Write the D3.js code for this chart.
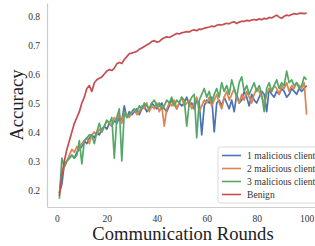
<!DOCTYPE html>
<html>
<head>
<meta charset="utf-8">
<script src="https://cdn.jsdelivr.net/npm/d3@7"></script>
<style>
  body { margin: 0; background: #fff; }
  svg { display: block; font-family: "Liberation Serif", "DejaVu Serif", serif; }
</style>
</head>
<body>
<svg id="chart" width="315" height="246"></svg>
<script>
const rounds = d3.range(1, 101)
const xTicks = [0, 20, 40, 60, 80, 100]
const yTicks = [0.2, 0.3, 0.4, 0.5, 0.6, 0.7, 0.8]
const seriesNames = ['1 malicious client', '2 malicious client', '3 malicious client', 'Benign']
const colors = ['#4C72B0', '#DD8452', '#55A868', '#C44E52']

const oneMalicious = [
  0.19, 0.22, 0.29, 0.30, 0.31, 0.32, 0.31, 0.33, 0.34, 0.35,
  0.37, 0.36, 0.38, 0.39, 0.38, 0.40, 0.39, 0.41, 0.42, 0.41,
  0.43, 0.42, 0.44, 0.43, 0.45, 0.44, 0.49, 0.45, 0.47, 0.46,
  0.47, 0.48, 0.46, 0.48, 0.49, 0.47, 0.48, 0.50, 0.49, 0.48,
  0.49, 0.50, 0.48, 0.47, 0.49, 0.51, 0.50, 0.48, 0.50, 0.49,
  0.50, 0.52, 0.49, 0.50, 0.48, 0.51, 0.50, 0.39, 0.49, 0.51,
  0.50, 0.52, 0.40, 0.50, 0.51, 0.49, 0.52, 0.50, 0.48, 0.51,
  0.47, 0.53, 0.50, 0.51, 0.54, 0.52, 0.49, 0.53, 0.51, 0.50,
  0.52, 0.54, 0.53, 0.47, 0.55, 0.53, 0.52, 0.54, 0.53, 0.55,
  0.54, 0.52, 0.53, 0.55, 0.54, 0.53, 0.55, 0.54, 0.55, 0.56]

const twoMalicious = [
  0.19, 0.26, 0.28, 0.30, 0.32, 0.34, 0.33, 0.35, 0.34, 0.36,
  0.37, 0.38, 0.36, 0.39, 0.40, 0.39, 0.41, 0.40, 0.42, 0.44,
  0.43, 0.42, 0.45, 0.44, 0.46, 0.43, 0.47, 0.46, 0.45, 0.47,
  0.48, 0.46, 0.47, 0.49, 0.48, 0.50, 0.47, 0.49, 0.48, 0.50,
  0.47, 0.49, 0.42, 0.48, 0.50, 0.49, 0.51, 0.48, 0.50, 0.52,
  0.49, 0.50, 0.51, 0.48, 0.50, 0.52, 0.47, 0.49, 0.51, 0.50,
  0.52, 0.49, 0.51, 0.53, 0.50, 0.48, 0.52, 0.54, 0.51, 0.53,
  0.55, 0.52, 0.50, 0.53, 0.51, 0.54, 0.52, 0.50, 0.53, 0.55,
  0.54, 0.52, 0.50, 0.53, 0.55, 0.54, 0.56, 0.55, 0.53, 0.56,
  0.55, 0.57, 0.54, 0.56, 0.55, 0.57, 0.56, 0.55, 0.57, 0.46]

const threeMalicious = [
  0.17, 0.31, 0.28, 0.30, 0.31, 0.32, 0.31, 0.32, 0.37, 0.29,
  0.37, 0.38, 0.39, 0.39, 0.36, 0.40, 0.43, 0.40, 0.42, 0.44,
  0.43, 0.45, 0.31, 0.45, 0.48, 0.30, 0.47, 0.45, 0.46, 0.47,
  0.48, 0.47, 0.49, 0.48, 0.50, 0.49, 0.48, 0.50, 0.51, 0.49,
  0.50, 0.48, 0.49, 0.51, 0.50, 0.52, 0.49, 0.51, 0.50, 0.52,
  0.51, 0.42, 0.50, 0.52, 0.53, 0.38, 0.51, 0.53, 0.55, 0.52,
  0.54, 0.50, 0.53, 0.55, 0.52, 0.57, 0.54, 0.56, 0.53, 0.58,
  0.55, 0.52, 0.57, 0.59, 0.54, 0.56, 0.53, 0.55, 0.57, 0.54,
  0.56, 0.53, 0.47, 0.55, 0.57, 0.54, 0.56, 0.58, 0.55, 0.57,
  0.56, 0.61, 0.57, 0.58, 0.56, 0.57, 0.55, 0.56, 0.59, 0.58]

const benign = [
  0.18, 0.25, 0.30, 0.34, 0.37, 0.40, 0.43, 0.45, 0.47, 0.50,
  0.52, 0.55, 0.56, 0.54, 0.57, 0.58, 0.585, 0.59, 0.60, 0.61,
  0.615, 0.612, 0.62, 0.635, 0.64, 0.636, 0.65, 0.66, 0.67, 0.672,
  0.675, 0.678, 0.685, 0.69, 0.695, 0.70, 0.705, 0.712, 0.715, 0.71,
  0.712, 0.72, 0.725, 0.728, 0.726, 0.73, 0.735, 0.74, 0.738, 0.742,
  0.744, 0.746, 0.745, 0.75, 0.752, 0.749, 0.755, 0.754, 0.758, 0.76,
  0.762, 0.765, 0.763, 0.768, 0.77, 0.769, 0.772, 0.775, 0.773, 0.778,
  0.78, 0.774, 0.779, 0.782, 0.781, 0.785, 0.783, 0.786, 0.788, 0.786,
  0.79, 0.787, 0.792, 0.79, 0.795, 0.793, 0.798, 0.803, 0.796, 0.792,
  0.799, 0.803, 0.801, 0.805, 0.808, 0.806, 0.809, 0.81, 0.808, 0.81]

const allSeries = [oneMalicious, twoMalicious, threeMalicious, benign]

const plotLeft = 47, plotRight = 319, plotTop = 3, plotBottom = 207

const x = d3.scaleLinear().domain([-3.95, 104.95]).range([plotLeft, plotRight])
const y = d3.scaleLinear().domain([0.1414, 0.8448]).range([plotBottom, plotTop])

const svg = d3.select('#chart')

// axes without tick marks, light grey spines
const xAxis = svg.append('g')
  .attr('transform', `translate(0,${plotBottom})`)
  .call(d3.axisBottom(x).tickValues(xTicks).tickSize(0).tickPadding(8).tickFormat(d3.format('d')))
const yAxis = svg.append('g')
  .attr('transform', `translate(${plotLeft},0)`)
  .call(d3.axisLeft(y).tickValues(yTicks).tickSize(0).tickPadding(7).tickFormat(d3.format('.1f')))

for (const ax of [xAxis, yAxis]) {
  ax.select('.domain').attr('stroke', '#cccccc').attr('stroke-width', 1.2)
  ax.selectAll('text')
    .attr('font-family', '"Liberation Serif", serif')
    .attr('font-size', 9.5)
    .attr('fill', '#333')
}

const line = d3.line()
  .x((d, i) => x(rounds[i]))
  .y(d => y(d))

svg.append('g')
  .selectAll('path')
  .data(allSeries)
  .join('path')
    .attr('d', line)
    .attr('fill', 'none')
    .attr('stroke', (d, i) => colors[i])
    .attr('stroke-width', 1.7)
    .attr('stroke-linejoin', 'round')

// axis titles
svg.append('text')
  .attr('x', 183).attr('y', 240)
  .attr('text-anchor', 'middle')
  .attr('font-size', 18.6)
  .attr('fill', '#222')
  .text('Communication Rounds')

svg.append('text')
  .attr('transform', 'translate(23,105) rotate(-90)')
  .attr('text-anchor', 'middle')
  .attr('font-size', 18.6)
  .attr('fill', '#222')
  .text('Accuracy')

// legend
const legend = svg.append('g').attr('transform', 'translate(218,147)')
legend.append('rect')
  .attr('width', 110).attr('height', 56)
  .attr('rx', 2)
  .attr('fill', '#fff').attr('fill-opacity', 0.85)
  .attr('stroke', '#d0d0d0').attr('stroke-width', 0.8)

const rows = legend.selectAll('g.row')
  .data(seriesNames)
  .join('g')
    .attr('class', 'row')
    .attr('transform', (d, i) => `translate(0,${8.5 + i * 13})`)
rows.append('line')
  .attr('x1', 4).attr('x2', 23)
  .attr('stroke', (d, i) => colors[i])
  .attr('stroke-width', 1.6)
rows.append('text')
  .attr('x', 29).attr('dy', '0.35em')
  .attr('font-size', 9.6)
  .attr('fill', '#333')
  .text(d => d)
</script>
</body>
</html>
